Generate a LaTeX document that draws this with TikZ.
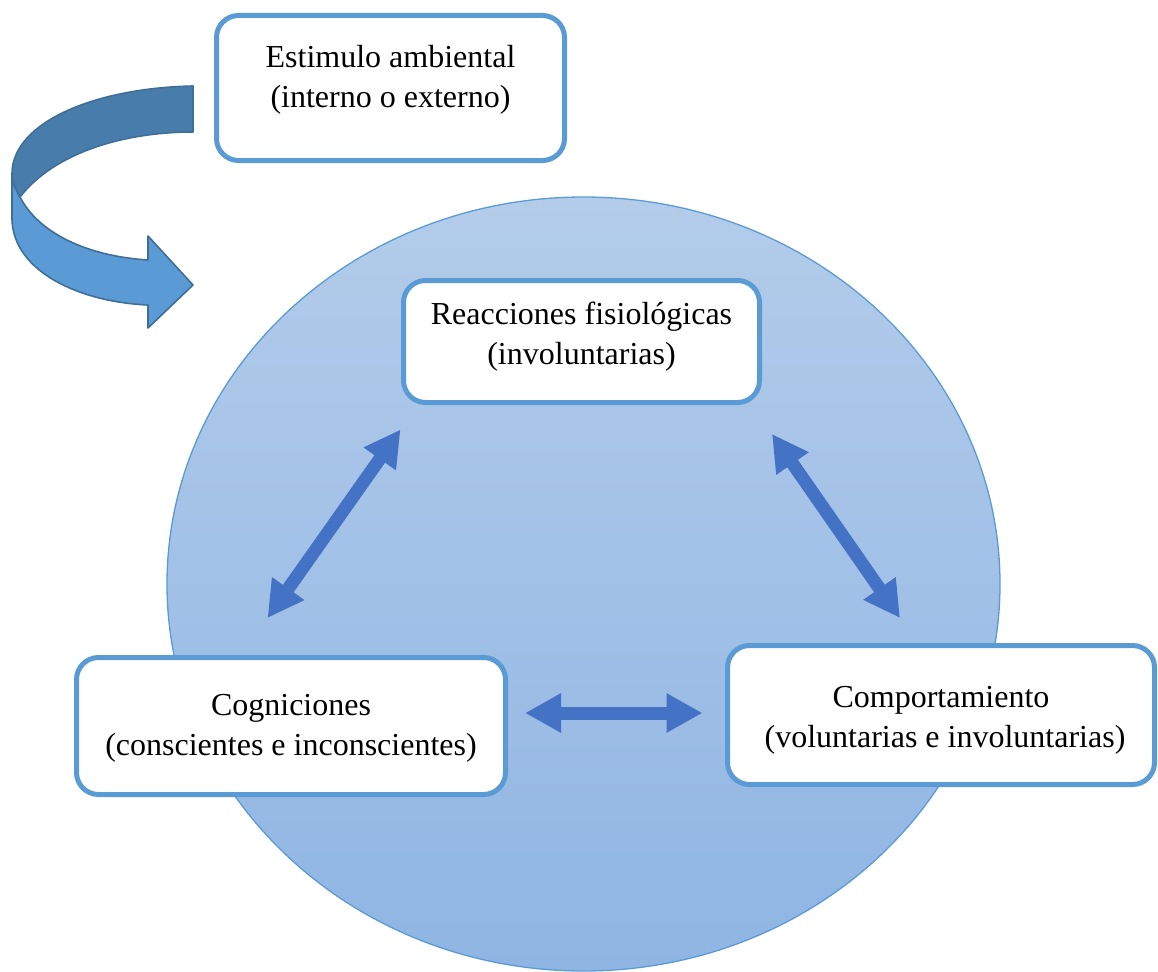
\documentclass[tikz,border=0pt]{standalone}
\usepackage{fontspec}
\setmainfont{Liberation Serif}
\usetikzlibrary{arrows.meta}

\definecolor{boxline}{HTML}{5B9BD5}
\definecolor{linkblue}{HTML}{4472C4}
\definecolor{discTop}{HTML}{B3CCEA}
\definecolor{discBottom}{HTML}{8FB5E3}
\definecolor{bandDark}{HTML}{487CAB}
\definecolor{bandLight}{HTML}{5B9BD5}
\definecolor{bandEdge}{HTML}{3F6E99}

\tikzset{
  infobox/.style={draw=boxline, line width=5pt, fill=white, rounded corners=22pt,
    align=center, inner sep=0pt, text depth=7pt, font=\fontsize{32}{39.5}\selectfont},
  % places the last baseline #1 below the node centre
  lastline/.style={text height={2*(#1)+7pt}},
  link/.style={draw=linkblue, line width=13pt,
    {Triangle[length=36pt,width=37pt]}-{Triangle[length=36pt,width=37pt]}},
  band/.style={draw=bandEdge, line width=1.6pt, line join=round}
}

\begin{document}
\begin{tikzpicture}[x=1pt,y=-1pt]
\useasboundingbox (0,0) rectangle (1158,971);

% shaded disc behind the three components
\shade[top color=discTop, bottom color=discBottom, draw=boxline, line width=1.3pt]
  (583.5,584) ellipse [x radius=416.5, y radius=387];

% curved arrow coming from the stimulus
\path[band, fill=bandLight]
  (12,181) -- (12,220) .. controls (14,272) and (80,302) .. (148,305)
  -- (148,328) -- (193,285) -- (148,236) -- (148,260)
  .. controls (85,256) and (38,232) .. (20,197) -- cycle;
\path[band, fill=bandDark]
  (193,86) .. controls (95,88) and (13,122) .. (12,173) -- (12,181) -- (20,197)
  .. controls (55,152) and (125,132) .. (193,132) -- cycle;

% boxes
\node[infobox, lastline=19pt, minimum width=348pt, minimum height=145pt] (stim) at (390.5,88)
  {Estimulo ambiental\\(interno o externo)};
\node[infobox, lastline=22.5pt, minimum width=356pt, minimum height=122pt] (fisio) at (581.5,341.5)
  {Reacciones fisiológicas\\(involuntarias)};
\node[infobox, lastline=29pt, minimum width=429pt, minimum height=137pt] (cogn) at (291,726)
  {Cogniciones\\(conscientes e inconscientes)};
\node[infobox, lastline=32pt, minimum width=427pt, minimum height=139pt] (comp) at (941,715)
  {Comportamiento\\\ (voluntarias e involuntarias)};

% ends of the two-way links
\coordinate (fisioL) at (400.5,429.5);
\coordinate (cognT) at (267.5,618);
\coordinate (fisioR) at (772,434);
\coordinate (compT) at (900,618);
\coordinate (cognR) at (525,713);
\coordinate (compL) at (702.5,713);

\draw[link] (cognT) -- (fisioL);
\draw[link] (fisioR) -- (compT);
\draw[link] (cognR) -- (compL);
\end{tikzpicture}
\end{document}
